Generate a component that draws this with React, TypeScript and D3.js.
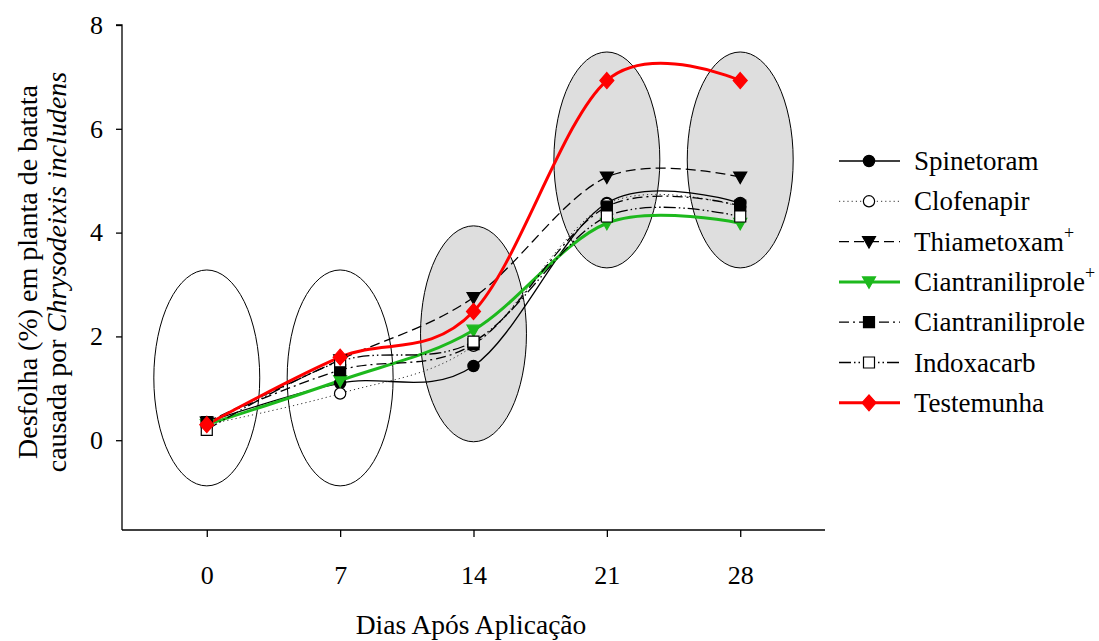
import React, { useEffect, useRef } from "react";
import * as d3 from "d3";

const days = [0, 7, 14, 21, 28];
const yTicks = [0, 2, 4, 6, 8];

const spinetoram = [0.35, 1.1, 1.43, 4.57, 4.57];
const clofenapir = [0.3, 0.9, 1.82, 4.55, 4.5];
const thiametoxam = [0.35, 1.55, 2.75, 5.07, 5.07];
const ciantraniliproleMais = [0.3, 1.15, 2.12, 4.18, 4.18];
const ciantraniliprole = [0.35, 1.35, 1.85, 4.5, 4.52];
const indoxacarb = [0.2, 1.52, 1.9, 4.31, 4.31];
const testemunha = [0.3, 1.6, 2.48, 6.93, 6.93];

// groups (ellipses): centre value per day, shaded or not
const groupCenters = [1.2, 1.2, 2.05, 5.4, 5.4];
const groupShaded = [false, false, true, true, true];

const series = [
  { name: "Spinetoram", sup: "", values: spinetoram, color: "#000", width: 1.3, dash: "", marker: "circle", fill: "#000" },
  { name: "Clofenapir", sup: "", values: clofenapir, color: "#333", width: 1, dash: "1.2,3", marker: "circle", fill: "#fff" },
  { name: "Thiametoxam", sup: "+", values: thiametoxam, color: "#000", width: 1.3, dash: "10,5", marker: "triangle", fill: "#000" },
  { name: "Ciantraniliprole", sup: "+", values: ciantraniliproleMais, color: "#1db91d", width: 3, dash: "", marker: "triangle", fill: "#1db91d" },
  { name: "Ciantraniliprole", sup: "", values: ciantraniliprole, color: "#000", width: 1.3, dash: "10,4,2,4", marker: "square", fill: "#000" },
  { name: "Indoxacarb", sup: "", values: indoxacarb, color: "#000", width: 1.3, dash: "12,3,1.5,3,1.5,3", marker: "square", fill: "#fff" },
  { name: "Testemunha", sup: "", values: testemunha, color: "#ff0000", width: 3, dash: "", marker: "diamond", fill: "#ff0000" },
];

const App = () => {
  const svgRef = useRef<SVGSVGElement>(null);

  useEffect(() => {
    const width = 1099;
    const height = 641;
    const left = 122, right = 825, top = 25, bottom = 530;
    const font = "Liberation Serif";

    const svg = d3.select(svgRef.current);
    svg.selectAll("*").remove();
    svg.attr("width", width).attr("height", height);

    const x = d3.scaleLinear().domain([-4.45, 32.45]).range([left, right]);
    const y = d3.scaleLinear().domain([-1.73, 8]).range([bottom, top]);

    // ellipses
    const rx = x(2.78) - x(0);
    const ry = y(0) - y(2.08);
    svg.append("g")
      .selectAll("ellipse")
      .data(days)
      .enter()
      .append("ellipse")
      .attr("cx", d => x(d))
      .attr("cy", (d, i) => y(groupCenters[i]))
      .attr("rx", rx)
      .attr("ry", ry)
      .attr("fill", (d, i) => groupShaded[i] ? "#dedede" : "none")
      .attr("stroke", "#000")
      .attr("stroke-width", 1);

    // axes
    const yAxis = d3.axisLeft(y).tickValues(yTicks).tickSize(6).tickPadding(13);
    const gy = svg.append("g").attr("transform", `translate(${left},0)`).call(yAxis);
    gy.select(".domain").attr("d", `M-6,${top}H0V${bottom}`);

    const xAxis = d3.axisBottom(x).tickValues(days).tickSize(7).tickPadding(29);
    const gx = svg.append("g").attr("transform", `translate(0,${bottom})`).call(xAxis);
    gx.select(".domain").attr("d", `M${left},0H${right}`);

    [gx, gy].forEach(g => {
      g.selectAll("text").attr("font-family", font).attr("font-size", 26).attr("fill", "#000");
      g.selectAll("line, path").attr("stroke", "#000").attr("stroke-width", 1.3);
    });

    // lines
    const line = d3.line<number>()
      .x((d, i) => x(days[i]))
      .y(d => y(d))
      .curve(d3.curveCardinal.tension(0));

    const markerPath = (type: string) => {
      if (type === "circle") return d3.symbol(d3.symbolCircle, 100)();
      if (type === "square") return "M-5.5,-5.5H5.5V5.5H-5.5Z";
      if (type === "triangle") return "M-6.5,-5L6.5,-5L0,6.5Z";
      return "M0,-8L7,0L0,8L-7,0Z";
    };
    const markerStroke = (s: any) => (s.fill === "#fff" ? "#000" : s.fill);

    series.forEach(s => {
      svg.append("path")
        .attr("d", line(s.values))
        .attr("fill", "none")
        .attr("stroke", s.color)
        .attr("stroke-width", s.width)
        .attr("stroke-dasharray", s.dash || null);
    });

    series.forEach(s => {
      svg.append("g")
        .selectAll("path")
        .data(s.values)
        .enter()
        .append("path")
        .attr("transform", (d, i) => `translate(${x(days[i])},${y(d)})`)
        .attr("d", markerPath(s.marker))
        .attr("fill", s.fill)
        .attr("stroke", markerStroke(s))
        .attr("stroke-width", 1.2);
    });

    // legend
    const legend = svg.append("g");
    series.forEach((s, i) => {
      const ly = 161 + i * 40.3;
      const g = legend.append("g").attr("transform", `translate(839,${ly})`);
      g.append("line")
        .attr("x1", 0).attr("x2", 61)
        .attr("stroke", s.color)
        .attr("stroke-width", s.width)
        .attr("stroke-dasharray", s.dash || null);
      g.append("path")
        .attr("transform", "translate(30,0)")
        .attr("d", markerPath(s.marker))
        .attr("fill", s.fill)
        .attr("stroke", markerStroke(s))
        .attr("stroke-width", 1.2);
      const t = g.append("text")
        .attr("x", 75)
        .attr("y", 9)
        .attr("font-family", font)
        .attr("font-size", 27)
        .text(s.name);
      if (s.sup) {
        t.append("tspan").attr("dy", -12).attr("font-size", 18).text(s.sup);
      }
    });

    // axis titles
    svg.append("text")
      .attr("x", 471)
      .attr("y", 634)
      .attr("text-anchor", "middle")
      .attr("font-family", font)
      .attr("font-size", 27.5)
      .text("Dias Após Aplicação");

    const yl = svg.append("text")
      .attr("transform", "translate(0,272) rotate(-90)")
      .attr("text-anchor", "middle")
      .attr("font-family", font)
      .attr("font-size", 28);
    yl.append("tspan").attr("x", 0).attr("y", 37).text("Desfolha (%) em planta de batata");
    const l2 = yl.append("tspan").attr("x", 0).attr("y", 66);
    l2.append("tspan").text("causada por ");
    l2.append("tspan").attr("font-style", "italic").text("Chrysodeixis includens");
  }, []);

  return (
    <svg ref={svgRef} style={{ position: "absolute", left: 0, top: 0, background: "#fff" }}></svg>
  );
};

export default App;
